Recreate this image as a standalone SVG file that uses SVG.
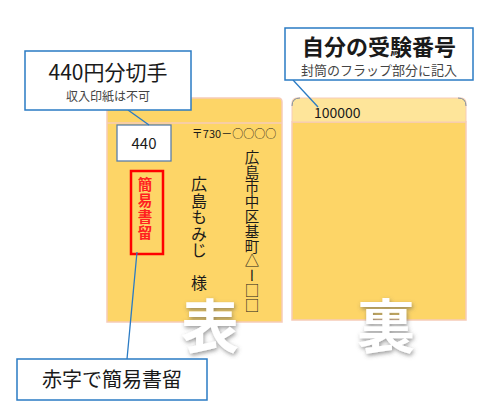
<svg xmlns="http://www.w3.org/2000/svg" width="500" height="417" viewBox="0 0 500 417">
<defs>
<style>
text{font-family:"Noto Sans CJK JP","Noto Sans",sans-serif;fill:#1a1a1a}
.env{fill:#fdd567;stroke:#f6cbb8;stroke-width:1.5}
.callout{fill:#fff;stroke:#2a7bc4;stroke-width:1.5}
.lead{stroke:#2a7bc4;stroke-width:1.3;fill:none}
.big{fill:#fff;font-weight:bold;font-size:58px;filter:url(#sh)}
.vert{writing-mode:vertical-rl;text-orientation:upright}
</style>
<filter id="sh" x="-30%" y="-30%" width="160%" height="160%">
<feDropShadow dx="1" dy="2" stdDeviation="2" flood-color="#555" flood-opacity="0.6"/>
</filter>
</defs>
<g id="front">
<path class="env" d="M107,98 H278 Q282,98 282,102 V322 H107 Z"/>
<line x1="107" y1="123" x2="282" y2="123" stroke="#f6cbb8" stroke-width="1.5"/>
<rect x="117" y="125" width="54" height="36" fill="#fff" stroke="#5b7fa8" stroke-width="1.3"/>
<text x="144" y="149" font-size="15" text-anchor="middle">440</text>
<rect x="131" y="171" width="32" height="83" fill="none" stroke="#ff0000" stroke-width="2.5"/>
<text class="vert" x="145" y="177" font-size="14.5" font-weight="bold" letter-spacing="1.5" style="fill:#ff2020">簡易書留</text>
<text x="234" y="138" font-size="11" text-anchor="middle">〒730－○○○○</text>
<text class="vert" x="252" y="150" font-size="14.5" letter-spacing="0.3">広島市中区基町△ー□□</text>
<text class="vert" x="199" y="176" font-size="16" letter-spacing="0.5">広島もみじ　様</text>
<text class="big" x="210" y="348" text-anchor="middle">表</text>
</g>
<g id="back">
<rect class="env" x="292" y="122" width="174" height="198"/>
<path d="M292,122 V103 Q292,98 297,98 H461 Q466,98 466,103 V122 Z" fill="#fee59a" stroke="#f6cbb8" stroke-width="1"/>
<path d="M292,106 Q292,98 300,98 M458,98 Q466,98 466,106" fill="none" stroke="#7f8fa0" stroke-width="1"/>
<text x="314" y="118" font-size="14">100000</text>
<text class="big" x="386" y="348" text-anchor="middle">裏</text>
</g>
<g id="connectors">
<line class="lead" x1="128" y1="110" x2="149" y2="125"/>
<line class="lead" x1="293" y1="80" x2="318" y2="107"/>
<line class="lead" x1="137" y1="252" x2="127" y2="359"/>
</g>
<g id="callout-stamp">
<rect class="callout" x="25" y="51" width="166" height="59"/>
<text x="108" y="80" font-size="21" text-anchor="middle">440円分切手</text>
<text x="108" y="101" font-size="12" text-anchor="middle" style="fill:#444">収入印紙は不可</text>
</g>
<g id="callout-number">
<rect class="callout" x="285" y="28" width="188" height="52"/>
<text x="379" y="55" font-size="22" font-weight="bold" text-anchor="middle">自分の受験番号</text>
<text x="379" y="75" font-size="13" text-anchor="middle" style="fill:#444">封筒のフラップ部分に記入</text>
</g>
<g id="callout-red">
<rect class="callout" x="17" y="359" width="190" height="41"/>
<text x="112" y="387" font-size="20" text-anchor="middle">赤字で簡易書留</text>
</g>
</svg>
